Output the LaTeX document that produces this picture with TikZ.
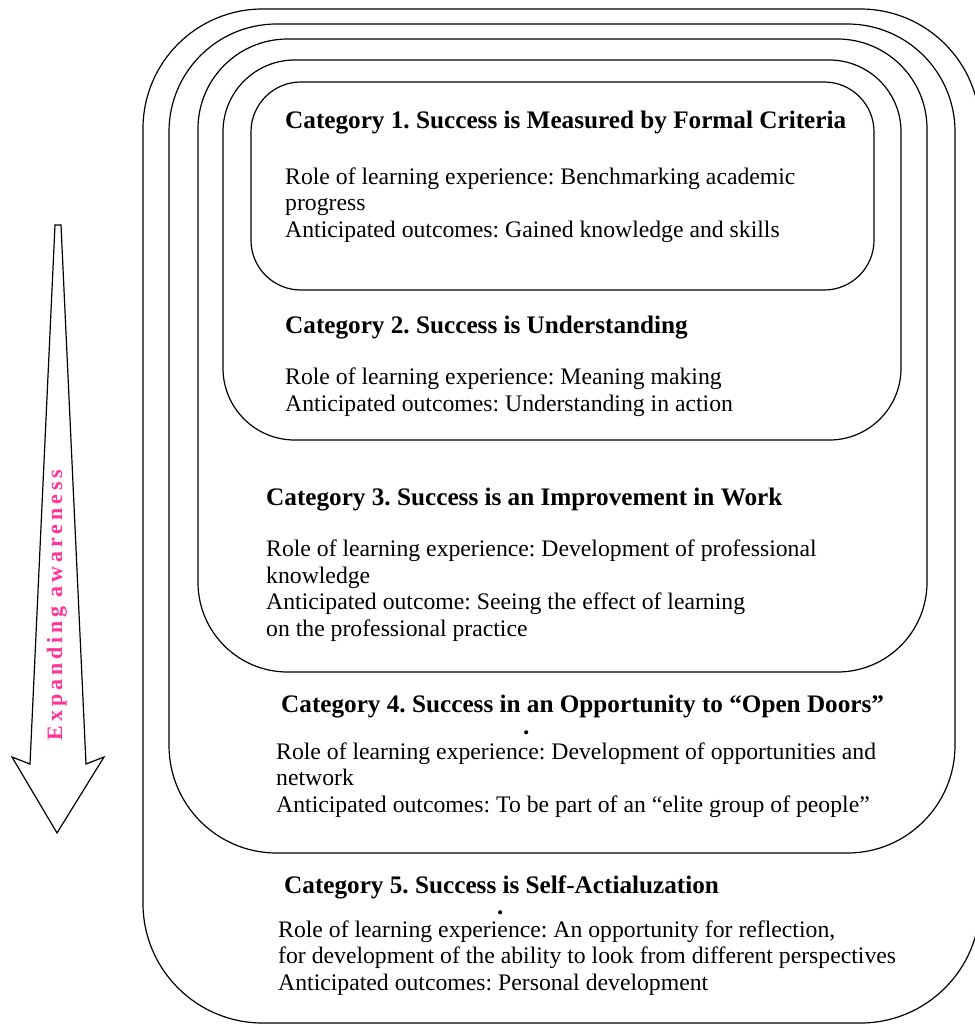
\documentclass[tikz,border=0pt]{standalone}
\usepackage{fontspec}
\setmainfont{Liberation Serif}
\newfontfamily\spacedfont[LetterSpace=18]{Liberation Serif}
\definecolor{awarepink}{RGB}{255,51,153}
\frenchspacing

\tikzset{
  catbox/.style={draw, line width=1.2bp},
  cattitle/.style={anchor=base west, inner sep=0pt, font=\bfseries\fontsize{25.3}{26.5}\selectfont},
  catbody/.style={anchor=base west, inner sep=0pt, align=left, font=\fontsize{23.8}{26.6}\selectfont},
}

\begin{document}
\begin{tikzpicture}[x=1bp, y=-1bp]

  \useasboundingbox (0,0) rectangle (975,1025);

  % --- Nested boxes, outermost first ---
  \draw[catbox, rounded corners=120] (143,9) rectangle (980,1023);
  \draw[catbox, rounded corners=108] (169,24) rectangle (955,853);
  \draw[catbox, rounded corners=90] (198,39) rectangle (927,672);
  \draw[catbox, rounded corners=72] (223,60) rectangle (901,440);
  \draw[catbox, rounded corners=50] (251,82) rectangle (874,290);

  % --- Category 1 (body placed at its last baseline) ---
  \node[cattitle] (cat1title) at (285,128) {Category 1. Success is Measured by Formal Criteria};
  \node[catbody] (cat1body) at (285,237) {Role of learning experience: Benchmarking academic\\progress\\Anticipated outcomes: Gained knowledge and skills};

  % --- Category 2 ---
  \node[cattitle] (cat2title) at (285,333) {Category 2. Success is Understanding};
  \node[catbody] (cat2body) at (285,411) {Role of learning experience: Meaning making\\Anticipated outcomes: Understanding in action};

  % --- Category 3 ---
  \node[cattitle] (cat3title) at (266,505) {Category 3. Success is an Improvement in Work};
  \node[catbody] (cat3body) at (266,636) {Role of learning experience: Development of professional\\knowledge\\Anticipated outcome: Seeing the effect of learning\\on the professional practice};

  % --- Category 4 ---
  \node[cattitle] (cat4title) at (281,712) {Category 4. Success in an Opportunity to ``Open Doors''};
  \node[cattitle] (cat4dot) at (523,734) {.};
  \node[catbody] (cat4body) at (276,812) {Role of learning experience: Development of opportunities and\\network\\Anticipated outcomes: To be part of an ``elite group of people''};

  % --- Category 5 ---
  \node[cattitle] (cat5title) at (284,893) {Category 5. Success is Self-Actialuzation};
  \node[cattitle] (cat5dot) at (497,914) {.};
  \node[catbody] (cat5body) at (278,990) {Role of learning experience: An opportunity for reflection,\\for development of the ability to look from different perspectives\\Anticipated outcomes: Personal development};

  % --- Expanding awareness arrow ---
  \draw[line width=1.2bp, line join=miter] (55,225) -- (61,225) -- (86,764) -- (104,757)
    -- (57,833) -- (12,757) -- (30,764) -- cycle;
  \node[rotate=90, inner sep=0pt, text=awarepink, font=\spacedfont\bfseries\fontsize{22}{24}\selectfont] (awareness) at (57,605) {Expanding awareness};

\end{tikzpicture}
\end{document}
